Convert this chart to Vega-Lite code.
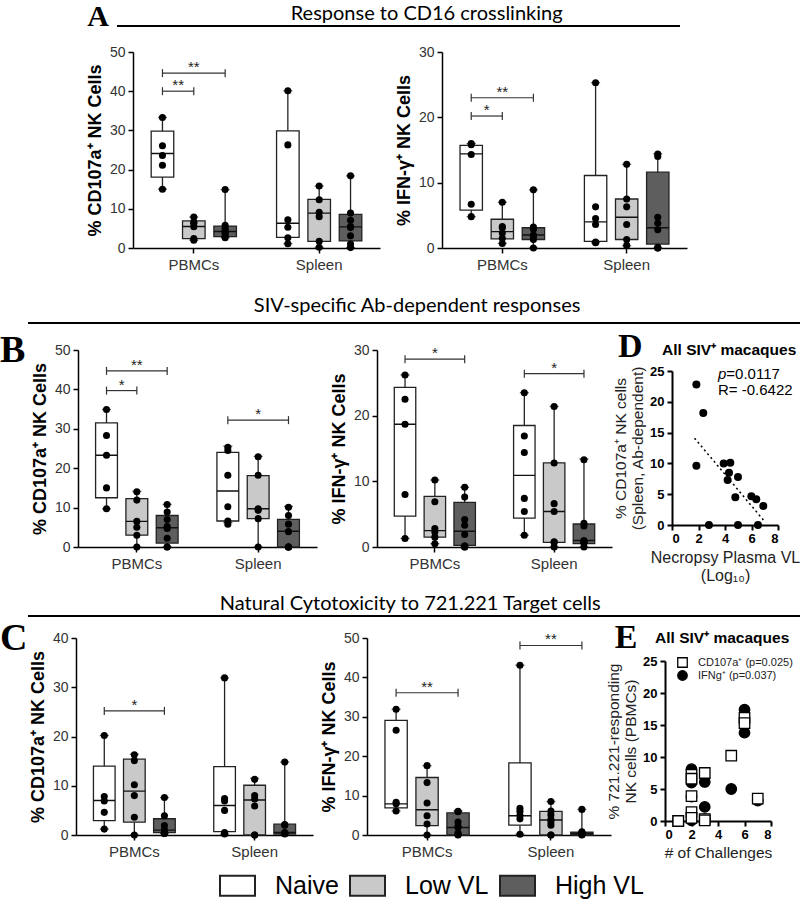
{
"$schema": "https://vega.github.io/schema/vega-lite/v6.json",
"background": "white",
"padding": 0,
"config": {
 "view": {"stroke": null},
 "font": "Liberation Sans",
 "axis": {"grid": false, "labelOverlap": false, "domainColor": "#000", "domainWidth": 1.5, "tickColor": "#000", "tickWidth": 1.5, "tickSize": 5, "labelFont": "Liberation Sans", "labelFontSize": 14, "labelColor": "#333", "titleFont": "Liberation Sans", "titleFontSize": 18, "titleFontWeight": "bold", "titleColor": "#000", "labelPadding": 3, "titlePadding": 5},
 "axisX": {"labelFontSize": 15, "labelPadding": 4, "labelAngle": 0},
 "text": {"font": "Liberation Sans"}
},
"datasets": {
 "boxes": [
  {"panel":"A1","slot":"PBMCs|Naive","group":"Naive","min":15.0,"q1":18.1,"median":24.1,"q3":29.8,"max":33.3},
  {"panel":"A1","slot":"PBMCs|Low VL","group":"Low VL","min":2.0,"q1":2.4,"median":5.5,"q3":6.9,"max":7.9},
  {"panel":"A1","slot":"PBMCs|High VL","group":"High VL","min":2.6,"q1":2.9,"median":4.2,"q3":5.6,"max":14.9},
  {"panel":"A1","slot":"Spleen|Naive","group":"Naive","min":1.1,"q1":2.7,"median":6.3,"q3":29.9,"max":40.1},
  {"panel":"A1","slot":"Spleen|Low VL","group":"Low VL","min":0.2,"q1":1.7,"median":8.9,"q3":12.4,"max":15.8},
  {"panel":"A1","slot":"Spleen|High VL","group":"High VL","min":0.1,"q1":1.8,"median":5.4,"q3":8.6,"max":18.4},
  {"panel":"A2","slot":"PBMCs|Naive","group":"Naive","min":4.8,"q1":5.8,"median":14.4,"q3":15.7,"max":16.0},
  {"panel":"A2","slot":"PBMCs|Low VL","group":"Low VL","min":0.7,"q1":1.4,"median":2.5,"q3":4.4,"max":7.0},
  {"panel":"A2","slot":"PBMCs|High VL","group":"High VL","min":0,"q1":1.3,"median":2.0,"q3":3.1,"max":8.9},
  {"panel":"A2","slot":"Spleen|Naive","group":"Naive","min":0.8,"q1":1.0,"median":4.0,"q3":11.1,"max":25.3},
  {"panel":"A2","slot":"Spleen|Low VL","group":"Low VL","min":0.35,"q1":1.3,"median":4.7,"q3":7.5,"max":12.8},
  {"panel":"A2","slot":"Spleen|High VL","group":"High VL","min":0,"q1":0.6,"median":3.1,"q3":11.6,"max":14.4},
  {"panel":"B1","slot":"PBMCs|Naive","group":"Naive","min":9.7,"q1":12.5,"median":23.3,"q3":31.5,"max":34.9},
  {"panel":"B1","slot":"PBMCs|Low VL","group":"Low VL","min":0,"q1":3.0,"median":6.5,"q3":12.3,"max":14.1},
  {"panel":"B1","slot":"PBMCs|High VL","group":"High VL","min":0,"q1":1.0,"median":4.9,"q3":8.0,"max":10.8},
  {"panel":"B1","slot":"Spleen|Naive","group":"Naive","min":6.2,"q1":6.6,"median":14.2,"q3":24.0,"max":25.6},
  {"panel":"B1","slot":"Spleen|Low VL","group":"Low VL","min":0,"q1":7.2,"median":9.7,"q3":18.1,"max":23.0},
  {"panel":"B1","slot":"Spleen|High VL","group":"High VL","min":0,"q1":0,"median":4.0,"q3":7.0,"max":10.3},
  {"panel":"B2","slot":"PBMCs|Naive","group":"Naive","min":1.3,"q1":4.7,"median":18.7,"q3":24.3,"max":26.2},
  {"panel":"B2","slot":"PBMCs|Low VL","group":"Low VL","min":0.5,"q1":1.5,"median":2.5,"q3":7.7,"max":10.2},
  {"panel":"B2","slot":"PBMCs|High VL","group":"High VL","min":0,"q1":0.25,"median":2.4,"q3":6.8,"max":9.1},
  {"panel":"B2","slot":"Spleen|Naive","group":"Naive","min":1.8,"q1":4.4,"median":10.9,"q3":18.5,"max":23.5},
  {"panel":"B2","slot":"Spleen|Low VL","group":"Low VL","min":0,"q1":0.7,"median":5.4,"q3":12.8,"max":21.4},
  {"panel":"B2","slot":"Spleen|High VL","group":"High VL","min":0,"q1":0.5,"median":1.0,"q3":3.5,"max":13.4},
  {"panel":"C1","slot":"PBMCs|Naive","group":"Naive","min":1.2,"q1":2.9,"median":7.0,"q3":14.0,"max":20.2},
  {"panel":"C1","slot":"PBMCs|Low VL","group":"Low VL","min":0,"q1":2.6,"median":8.9,"q3":15.4,"max":16.4},
  {"panel":"C1","slot":"PBMCs|High VL","group":"High VL","min":0.3,"q1":0.5,"median":1.0,"q3":3.3,"max":7.6},
  {"panel":"C1","slot":"Spleen|Naive","group":"Naive","min":0.2,"q1":0.7,"median":6.0,"q3":13.9,"max":31.9},
  {"panel":"C1","slot":"Spleen|Low VL","group":"Low VL","min":0,"q1":0,"median":7.1,"q3":10.1,"max":11.5},
  {"panel":"C1","slot":"Spleen|High VL","group":"High VL","min":0.1,"q1":0.2,"median":0.5,"q3":2.2,"max":14.8},
  {"panel":"C2","slot":"PBMCs|Naive","group":"Naive","min":6.1,"q1":6.9,"median":7.9,"q3":29.1,"max":31.9},
  {"panel":"C2","slot":"PBMCs|Low VL","group":"Low VL","min":0,"q1":2.4,"median":6.4,"q3":14.6,"max":17.6},
  {"panel":"C2","slot":"PBMCs|High VL","group":"High VL","min":0,"q1":0,"median":1.9,"q3":5.6,"max":6.1},
  {"panel":"C2","slot":"Spleen|Naive","group":"Naive","min":0.2,"q1":2.5,"median":4.9,"q3":18.3,"max":43.1},
  {"panel":"C2","slot":"Spleen|Low VL","group":"Low VL","min":0,"q1":0,"median":3.8,"q3":6.0,"max":8.5},
  {"panel":"C2","slot":"Spleen|High VL","group":"High VL","min":0,"q1":0,"median":0.3,"q3":0.7,"max":6.5}
 ],
 "points": [
  {"panel":"A1","slot":"PBMCs|Naive","pct":33.3},{"panel":"A1","slot":"PBMCs|Naive","pct":26.1},{"panel":"A1","slot":"PBMCs|Naive","pct":23.6},{"panel":"A1","slot":"PBMCs|Naive","pct":21.1},{"panel":"A1","slot":"PBMCs|Naive","pct":15.0},
  {"panel":"A1","slot":"PBMCs|Low VL","pct":7.9},{"panel":"A1","slot":"PBMCs|Low VL","pct":6.6},{"panel":"A1","slot":"PBMCs|Low VL","pct":6.3},{"panel":"A1","slot":"PBMCs|Low VL","pct":5.4},{"panel":"A1","slot":"PBMCs|Low VL","pct":2.4},{"panel":"A1","slot":"PBMCs|Low VL","pct":2.0},
  {"panel":"A1","slot":"PBMCs|High VL","pct":14.9},{"panel":"A1","slot":"PBMCs|High VL","pct":5.8},{"panel":"A1","slot":"PBMCs|High VL","pct":5.0},{"panel":"A1","slot":"PBMCs|High VL","pct":4.4},{"panel":"A1","slot":"PBMCs|High VL","pct":4.0},{"panel":"A1","slot":"PBMCs|High VL","pct":3.6},{"panel":"A1","slot":"PBMCs|High VL","pct":3.0},{"panel":"A1","slot":"PBMCs|High VL","pct":2.6},
  {"panel":"A1","slot":"Spleen|Naive","pct":40.1},{"panel":"A1","slot":"Spleen|Naive","pct":26.3},{"panel":"A1","slot":"Spleen|Naive","pct":7.2},{"panel":"A1","slot":"Spleen|Naive","pct":5.3},{"panel":"A1","slot":"Spleen|Naive","pct":2.6},{"panel":"A1","slot":"Spleen|Naive","pct":1.1},
  {"panel":"A1","slot":"Spleen|Low VL","pct":15.8},{"panel":"A1","slot":"Spleen|Low VL","pct":12.3},{"panel":"A1","slot":"Spleen|Low VL","pct":9.1},{"panel":"A1","slot":"Spleen|Low VL","pct":8.0},{"panel":"A1","slot":"Spleen|Low VL","pct":1.7},{"panel":"A1","slot":"Spleen|Low VL","pct":0.2},
  {"panel":"A1","slot":"Spleen|High VL","pct":18.4},{"panel":"A1","slot":"Spleen|High VL","pct":8.9},{"panel":"A1","slot":"Spleen|High VL","pct":7.1},{"panel":"A1","slot":"Spleen|High VL","pct":5.5},{"panel":"A1","slot":"Spleen|High VL","pct":5.2},{"panel":"A1","slot":"Spleen|High VL","pct":3.1},{"panel":"A1","slot":"Spleen|High VL","pct":1.0},{"panel":"A1","slot":"Spleen|High VL","pct":0.1},
  {"panel":"A2","slot":"PBMCs|Naive","pct":16.0},{"panel":"A2","slot":"PBMCs|Naive","pct":15.8},{"panel":"A2","slot":"PBMCs|Naive","pct":14.3},{"panel":"A2","slot":"PBMCs|Naive","pct":6.7},{"panel":"A2","slot":"PBMCs|Naive","pct":4.8},
  {"panel":"A2","slot":"PBMCs|Low VL","pct":7.0},{"panel":"A2","slot":"PBMCs|Low VL","pct":3.3},{"panel":"A2","slot":"PBMCs|Low VL","pct":3.1},{"panel":"A2","slot":"PBMCs|Low VL","pct":2.3},{"panel":"A2","slot":"PBMCs|Low VL","pct":1.5},{"panel":"A2","slot":"PBMCs|Low VL","pct":0.7},
  {"panel":"A2","slot":"PBMCs|High VL","pct":8.9},{"panel":"A2","slot":"PBMCs|High VL","pct":3.2},{"panel":"A2","slot":"PBMCs|High VL","pct":3.0},{"panel":"A2","slot":"PBMCs|High VL","pct":2.9},{"panel":"A2","slot":"PBMCs|High VL","pct":2.0},{"panel":"A2","slot":"PBMCs|High VL","pct":1.8},{"panel":"A2","slot":"PBMCs|High VL","pct":1.3},{"panel":"A2","slot":"PBMCs|High VL","pct":0},
  {"panel":"A2","slot":"Spleen|Naive","pct":25.3},{"panel":"A2","slot":"Spleen|Naive","pct":6.3},{"panel":"A2","slot":"Spleen|Naive","pct":4.5},{"panel":"A2","slot":"Spleen|Naive","pct":3.6},{"panel":"A2","slot":"Spleen|Naive","pct":0.9},{"panel":"A2","slot":"Spleen|Naive","pct":0.8},
  {"panel":"A2","slot":"Spleen|Low VL","pct":12.8},{"panel":"A2","slot":"Spleen|Low VL","pct":7.5},{"panel":"A2","slot":"Spleen|Low VL","pct":6.3},{"panel":"A2","slot":"Spleen|Low VL","pct":3.6},{"panel":"A2","slot":"Spleen|Low VL","pct":1.3},{"panel":"A2","slot":"Spleen|Low VL","pct":0.4},
  {"panel":"A2","slot":"Spleen|High VL","pct":14.4},{"panel":"A2","slot":"Spleen|High VL","pct":14.0},{"panel":"A2","slot":"Spleen|High VL","pct":4.7},{"panel":"A2","slot":"Spleen|High VL","pct":3.8},{"panel":"A2","slot":"Spleen|High VL","pct":2.8},{"panel":"A2","slot":"Spleen|High VL","pct":0.1},{"panel":"A2","slot":"Spleen|High VL","pct":0},{"panel":"A2","slot":"Spleen|High VL","pct":0},
  {"panel":"B1","slot":"PBMCs|Naive","pct":34.9},{"panel":"B1","slot":"PBMCs|Naive","pct":28.3},{"panel":"B1","slot":"PBMCs|Naive","pct":23.3},{"panel":"B1","slot":"PBMCs|Naive","pct":15.0},{"panel":"B1","slot":"PBMCs|Naive","pct":9.7},
  {"panel":"B1","slot":"PBMCs|Low VL","pct":14.0},{"panel":"B1","slot":"PBMCs|Low VL","pct":11.9},{"panel":"B1","slot":"PBMCs|Low VL","pct":6.5},{"panel":"B1","slot":"PBMCs|Low VL","pct":5.0},{"panel":"B1","slot":"PBMCs|Low VL","pct":3.0},{"panel":"B1","slot":"PBMCs|Low VL","pct":0},
  {"panel":"B1","slot":"PBMCs|High VL","pct":10.8},{"panel":"B1","slot":"PBMCs|High VL","pct":8.9},{"panel":"B1","slot":"PBMCs|High VL","pct":7.0},{"panel":"B1","slot":"PBMCs|High VL","pct":5.2},{"panel":"B1","slot":"PBMCs|High VL","pct":4.7},{"panel":"B1","slot":"PBMCs|High VL","pct":2.2},{"panel":"B1","slot":"PBMCs|High VL","pct":0},{"panel":"B1","slot":"PBMCs|High VL","pct":0},
  {"panel":"B1","slot":"Spleen|Naive","pct":25.3},{"panel":"B1","slot":"Spleen|Naive","pct":24.5},{"panel":"B1","slot":"Spleen|Naive","pct":18.2},{"panel":"B1","slot":"Spleen|Naive","pct":10.2},{"panel":"B1","slot":"Spleen|Naive","pct":6.6},{"panel":"B1","slot":"Spleen|Naive","pct":5.8},
  {"panel":"B1","slot":"Spleen|Low VL","pct":22.9},{"panel":"B1","slot":"Spleen|Low VL","pct":18.2},{"panel":"B1","slot":"Spleen|Low VL","pct":9.7},{"panel":"B1","slot":"Spleen|Low VL","pct":9.3},{"panel":"B1","slot":"Spleen|Low VL","pct":7.2},{"panel":"B1","slot":"Spleen|Low VL","pct":0},
  {"panel":"B1","slot":"Spleen|High VL","pct":10.1},{"panel":"B1","slot":"Spleen|High VL","pct":8.0},{"panel":"B1","slot":"Spleen|High VL","pct":5.8},{"panel":"B1","slot":"Spleen|High VL","pct":3.9},{"panel":"B1","slot":"Spleen|High VL","pct":0},{"panel":"B1","slot":"Spleen|High VL","pct":0},{"panel":"B1","slot":"Spleen|High VL","pct":0},{"panel":"B1","slot":"Spleen|High VL","pct":0},
  {"panel":"B2","slot":"PBMCs|Naive","pct":26.2},{"panel":"B2","slot":"PBMCs|Naive","pct":22.5},{"panel":"B2","slot":"PBMCs|Naive","pct":18.7},{"panel":"B2","slot":"PBMCs|Naive","pct":8.0},{"panel":"B2","slot":"PBMCs|Naive","pct":1.3},
  {"panel":"B2","slot":"PBMCs|Low VL","pct":10.2},{"panel":"B2","slot":"PBMCs|Low VL","pct":6.9},{"panel":"B2","slot":"PBMCs|Low VL","pct":2.8},{"panel":"B2","slot":"PBMCs|Low VL","pct":2.3},{"panel":"B2","slot":"PBMCs|Low VL","pct":1.5},{"panel":"B2","slot":"PBMCs|Low VL","pct":0.5},
  {"panel":"B2","slot":"PBMCs|High VL","pct":9.1},{"panel":"B2","slot":"PBMCs|High VL","pct":7.6},{"panel":"B2","slot":"PBMCs|High VL","pct":4.2},{"panel":"B2","slot":"PBMCs|High VL","pct":3.3},{"panel":"B2","slot":"PBMCs|High VL","pct":1.9},{"panel":"B2","slot":"PBMCs|High VL","pct":0.2},{"panel":"B2","slot":"PBMCs|High VL","pct":0},{"panel":"B2","slot":"PBMCs|High VL","pct":0},
  {"panel":"B2","slot":"Spleen|Naive","pct":23.5},{"panel":"B2","slot":"Spleen|Naive","pct":16.9},{"panel":"B2","slot":"Spleen|Naive","pct":14.4},{"panel":"B2","slot":"Spleen|Naive","pct":7.4},{"panel":"B2","slot":"Spleen|Naive","pct":5.4},{"panel":"B2","slot":"Spleen|Naive","pct":1.8},
  {"panel":"B2","slot":"Spleen|Low VL","pct":21.4},{"panel":"B2","slot":"Spleen|Low VL","pct":12.8},{"panel":"B2","slot":"Spleen|Low VL","pct":6.6},{"panel":"B2","slot":"Spleen|Low VL","pct":5.4},{"panel":"B2","slot":"Spleen|Low VL","pct":0.8},{"panel":"B2","slot":"Spleen|Low VL","pct":0.7},{"panel":"B2","slot":"Spleen|Low VL","pct":0},
  {"panel":"B2","slot":"Spleen|High VL","pct":13.3},{"panel":"B2","slot":"Spleen|High VL","pct":3.6},{"panel":"B2","slot":"Spleen|High VL","pct":3.2},{"panel":"B2","slot":"Spleen|High VL","pct":1.0},{"panel":"B2","slot":"Spleen|High VL","pct":0.8},{"panel":"B2","slot":"Spleen|High VL","pct":0.7},{"panel":"B2","slot":"Spleen|High VL","pct":0.6},{"panel":"B2","slot":"Spleen|High VL","pct":0},
  {"panel":"C1","slot":"PBMCs|Naive","pct":20.2},{"panel":"C1","slot":"PBMCs|Naive","pct":7.8},{"panel":"C1","slot":"PBMCs|Naive","pct":6.9},{"panel":"C1","slot":"PBMCs|Naive","pct":4.6},{"panel":"C1","slot":"PBMCs|Naive","pct":1.2},
  {"panel":"C1","slot":"PBMCs|Low VL","pct":16.3},{"panel":"C1","slot":"PBMCs|Low VL","pct":15.1},{"panel":"C1","slot":"PBMCs|Low VL","pct":10.2},{"panel":"C1","slot":"PBMCs|Low VL","pct":8.0},{"panel":"C1","slot":"PBMCs|Low VL","pct":3.6},{"panel":"C1","slot":"PBMCs|Low VL","pct":0},
  {"panel":"C1","slot":"PBMCs|High VL","pct":7.6},{"panel":"C1","slot":"PBMCs|High VL","pct":3.9},{"panel":"C1","slot":"PBMCs|High VL","pct":1.9},{"panel":"C1","slot":"PBMCs|High VL","pct":1.0},{"panel":"C1","slot":"PBMCs|High VL","pct":0.6},{"panel":"C1","slot":"PBMCs|High VL","pct":0.5},{"panel":"C1","slot":"PBMCs|High VL","pct":0.3},{"panel":"C1","slot":"PBMCs|High VL","pct":0.3},
  {"panel":"C1","slot":"Spleen|Naive","pct":31.9},{"panel":"C1","slot":"Spleen|Naive","pct":7.4},{"panel":"C1","slot":"Spleen|Naive","pct":6.9},{"panel":"C1","slot":"Spleen|Naive","pct":5.0},{"panel":"C1","slot":"Spleen|Naive","pct":0.5},{"panel":"C1","slot":"Spleen|Naive","pct":0.2},
  {"panel":"C1","slot":"Spleen|Low VL","pct":11.3},{"panel":"C1","slot":"Spleen|Low VL","pct":8.0},{"panel":"C1","slot":"Spleen|Low VL","pct":7.3},{"panel":"C1","slot":"Spleen|Low VL","pct":5.9},{"panel":"C1","slot":"Spleen|Low VL","pct":0},{"panel":"C1","slot":"Spleen|Low VL","pct":0},
  {"panel":"C1","slot":"Spleen|High VL","pct":14.8},{"panel":"C1","slot":"Spleen|High VL","pct":2.1},{"panel":"C1","slot":"Spleen|High VL","pct":2.0},{"panel":"C1","slot":"Spleen|High VL","pct":0.5},{"panel":"C1","slot":"Spleen|High VL","pct":0.4},{"panel":"C1","slot":"Spleen|High VL","pct":0.3},{"panel":"C1","slot":"Spleen|High VL","pct":0.3},{"panel":"C1","slot":"Spleen|High VL","pct":0.2},
  {"panel":"C2","slot":"PBMCs|Naive","pct":31.9},{"panel":"C2","slot":"PBMCs|Naive","pct":26.6},{"panel":"C2","slot":"PBMCs|Naive","pct":8.3},{"panel":"C2","slot":"PBMCs|Naive","pct":7.9},{"panel":"C2","slot":"PBMCs|Naive","pct":6.1},
  {"panel":"C2","slot":"PBMCs|Low VL","pct":17.6},{"panel":"C2","slot":"PBMCs|Low VL","pct":13.3},{"panel":"C2","slot":"PBMCs|Low VL","pct":8.1},{"panel":"C2","slot":"PBMCs|Low VL","pct":4.9},{"panel":"C2","slot":"PBMCs|Low VL","pct":2.8},{"panel":"C2","slot":"PBMCs|Low VL","pct":0},
  {"panel":"C2","slot":"PBMCs|High VL","pct":6.0},{"panel":"C2","slot":"PBMCs|High VL","pct":5.9},{"panel":"C2","slot":"PBMCs|High VL","pct":3.3},{"panel":"C2","slot":"PBMCs|High VL","pct":2.2},{"panel":"C2","slot":"PBMCs|High VL","pct":1.9},{"panel":"C2","slot":"PBMCs|High VL","pct":0.5},{"panel":"C2","slot":"PBMCs|High VL","pct":0.1},{"panel":"C2","slot":"PBMCs|High VL","pct":0},
  {"panel":"C2","slot":"Spleen|Naive","pct":43.1},{"panel":"C2","slot":"Spleen|Naive","pct":6.8},{"panel":"C2","slot":"Spleen|Naive","pct":6.0},{"panel":"C2","slot":"Spleen|Naive","pct":5.0},{"panel":"C2","slot":"Spleen|Naive","pct":4.1},{"panel":"C2","slot":"Spleen|Naive","pct":0.2},
  {"panel":"C2","slot":"Spleen|Low VL","pct":8.5},{"panel":"C2","slot":"Spleen|Low VL","pct":6.1},{"panel":"C2","slot":"Spleen|Low VL","pct":5.1},{"panel":"C2","slot":"Spleen|Low VL","pct":4.0},{"panel":"C2","slot":"Spleen|Low VL","pct":3.3},{"panel":"C2","slot":"Spleen|Low VL","pct":2.5},{"panel":"C2","slot":"Spleen|Low VL","pct":0},{"panel":"C2","slot":"Spleen|Low VL","pct":0},
  {"panel":"C2","slot":"Spleen|High VL","pct":6.5},{"panel":"C2","slot":"Spleen|High VL","pct":0.8},{"panel":"C2","slot":"Spleen|High VL","pct":0.6},{"panel":"C2","slot":"Spleen|High VL","pct":0.4},{"panel":"C2","slot":"Spleen|High VL","pct":0.3},{"panel":"C2","slot":"Spleen|High VL","pct":0.2},{"panel":"C2","slot":"Spleen|High VL","pct":0.1},{"panel":"C2","slot":"Spleen|High VL","pct":0}
 ],
 "sig": [
  {"panel":"A1","from":"PBMCs|Naive","to":"PBMCs|High VL","y":44.6,"label":"**"},
  {"panel":"A1","from":"PBMCs|Naive","to":"PBMCs|Low VL","y":40.0,"label":"**"},
  {"panel":"A2","from":"PBMCs|Naive","to":"PBMCs|High VL","y":23.0,"label":"**"},
  {"panel":"A2","from":"PBMCs|Naive","to":"PBMCs|Low VL","y":20.2,"label":"*"},
  {"panel":"B1","from":"PBMCs|Naive","to":"PBMCs|High VL","y":44.7,"label":"**"},
  {"panel":"B1","from":"PBMCs|Naive","to":"PBMCs|Low VL","y":39.7,"label":"*"},
  {"panel":"B1","from":"Spleen|Naive","to":"Spleen|High VL","y":32.2,"label":"*"},
  {"panel":"B2","from":"PBMCs|Naive","to":"PBMCs|High VL","y":28.6,"label":"*"},
  {"panel":"B2","from":"Spleen|Naive","to":"Spleen|High VL","y":26.4,"label":"*"},
  {"panel":"C1","from":"PBMCs|Naive","to":"PBMCs|High VL","y":25.2,"label":"*"},
  {"panel":"C2","from":"PBMCs|Naive","to":"PBMCs|High VL","y":36.1,"label":"**"},
  {"panel":"C2","from":"Spleen|Naive","to":"Spleen|High VL","y":48.1,"label":"**"}
 ],
 "dpts": [
  {"vl":1.84,"pct":22.8},{"vl":2.36,"pct":18.2},{"vl":1.84,"pct":9.6},{"vl":2.79,"pct":0},{"vl":3.9,"pct":10.0},{"vl":4.4,"pct":10.1},{"vl":4.3,"pct":8.5},{"vl":4.2,"pct":7.3},{"vl":4.98,"pct":7.8},{"vl":4.78,"pct":4.5},{"vl":4.98,"pct":0},{"vl":5.99,"pct":4.65},{"vl":6.36,"pct":4.2},{"vl":6.89,"pct":3.1},{"vl":6.49,"pct":0}
 ],
 "dfit": [{"vl":1.7,"pct":14.1},{"vl":6.9,"pct":0.8}],
 "epts": [
  {"series":"IFNg⁺","challenges":1,"pct":0},{"series":"IFNg⁺","challenges":1,"pct":0},{"series":"IFNg⁺","challenges":2,"pct":8.1},{"series":"IFNg⁺","challenges":2,"pct":6.0},{"series":"IFNg⁺","challenges":2,"pct":3.8},{"series":"IFNg⁺","challenges":2,"pct":1.2},{"series":"IFNg⁺","challenges":2,"pct":0.1},{"series":"IFNg⁺","challenges":3,"pct":6.1},{"series":"IFNg⁺","challenges":3,"pct":2.2},{"series":"IFNg⁺","challenges":3,"pct":0.3},{"series":"IFNg⁺","challenges":5,"pct":5.0},{"series":"IFNg⁺","challenges":6,"pct":17.4},{"series":"IFNg⁺","challenges":6,"pct":13.8},{"series":"IFNg⁺","challenges":7,"pct":3.2},
  {"series":"CD107a⁺","challenges":1,"pct":0},{"series":"CD107a⁺","challenges":1,"pct":0},{"series":"CD107a⁺","challenges":2,"pct":7.2},{"series":"CD107a⁺","challenges":2,"pct":6.6},{"series":"CD107a⁺","challenges":2,"pct":3.9},{"series":"CD107a⁺","challenges":2,"pct":1.4},{"series":"CD107a⁺","challenges":2,"pct":0.5},{"series":"CD107a⁺","challenges":3,"pct":7.5},{"series":"CD107a⁺","challenges":3,"pct":0.3},{"series":"CD107a⁺","challenges":3,"pct":0.1},{"series":"CD107a⁺","challenges":5,"pct":10.2},{"series":"CD107a⁺","challenges":6,"pct":16.1},{"series":"CD107a⁺","challenges":6,"pct":15.3},{"series":"CD107a⁺","challenges":7,"pct":3.5}
 ]
},
"spacing": 0,
"bounds": "full",
"vconcat": [
 {"width":1,"height":2,"data":{"values":[]},"mark":"point"},
 {"hconcat": [
   {"width":117,"height":1,"data":{"values":[{}]},"mark":{"type":"text","font":"Liberation Serif","fontSize":30,"fontWeight":"bold","align":"right","baseline":"alphabetic","color":"#000"},"encoding":{"x":{"datum":0.93,"type":"quantitative","scale":{"domain":[0,1]},"axis":null},"y":{"datum":0,"type":"quantitative","scale":{"domain":[0,1]},"axis":null},"text":{"value":"A"}}},
   {"width":563,"height":1,"data":{"values":[{}]},"layer":[
     {"mark":{"type":"rule","strokeWidth":2,"color":"#000"},"encoding":{"y":{"datum":0,"type":"quantitative","scale":{"domain":[0,1]},"axis":null}}},
     {"mark":{"type":"text","font":"Lato","fontSize":20,"align":"center","baseline":"alphabetic","dy":-6,"color":"#000"},"encoding":{"x":{"datum":0.55,"type":"quantitative","scale":{"domain":[0,1]},"axis":null},"y":{"datum":0,"type":"quantitative"},"text":{"value":"Response to CD16 crosslinking"}}}
   ]}
  ], "spacing": 0, "bounds": "flush"},
 {"width":1,"height":13,"data":{"values":[]},"mark":"point"},
 {"hconcat": [
   {"width":71,"height":196,"data":{"values":[]},"mark":"point"},
   {"width":247,"height":196,"layer":[
     {"data":{"name":"boxes"},"transform":[{"filter":"datum.panel=='A1'"}],"mark":{"type":"rule","stroke":"#222","strokeWidth":1.3},"encoding":{"x":{"field":"slot","type":"nominal","scale":{"domain":["PBMCs|Naive","PBMCs|Low VL","PBMCs|High VL","gap","Spleen|Naive","Spleen|Low VL","Spleen|High VL"],"paddingInner":0,"paddingOuter":0.44},"axis":{"values":["PBMCs|Low VL","Spleen|Low VL"],"labelExpr":"split(datum.value,'|')[0]","title":null}},"y":{"field":"min","type":"quantitative","scale":{"domain":[0,50],"nice":false},"axis":{"values":[0,10,20,30,40,50],"tickCount":20,"format":"d","labelOverlap":false,"title":"% CD107a⁺ NK Cells"}},"y2":{"field":"max"}}},
     {"data":{"name":"boxes"},"transform":[{"filter":"datum.panel=='A1'"},{"fold":["min","max"],"as":["stat","v"]}],"mark":{"type":"tick","orient":"horizontal","size":9,"thickness":1.3,"color":"#222"},"encoding":{"x":{"field":"slot","type":"nominal"},"y":{"field":"v","type":"quantitative"}}},
     {"data":{"name":"boxes"},"transform":[{"filter":"datum.panel=='A1'"}],"mark":{"type":"bar","stroke":"#222","strokeWidth":1.3,"width":{"band":0.72}},"encoding":{"x":{"field":"slot","type":"nominal"},"y":{"field":"q1","type":"quantitative"},"y2":{"field":"q3"},"fill":{"field":"group","type":"nominal","scale":{"domain":["Naive","Low VL","High VL"],"range":["#ffffff","#c9c9c9","#5e5e5e"]},"legend":{"orient":"none","legendX":219,"legendY":867,"direction":"horizontal","title":null,"symbolType":"M-1,-0.57H1V0.57H-1Z","symbolSize":1225,"symbolStrokeColor":"#000","symbolStrokeWidth":2,"labelFontSize":25,"labelFont":"Liberation Sans","labelColor":"#000","labelOffset":19,"columnPadding":7}}}},
     {"data":{"name":"boxes"},"transform":[{"filter":"datum.panel=='A1'"}],"mark":{"type":"bar","fillOpacity":0,"stroke":"#111","strokeWidth":1.4,"width":{"band":0.72}},"encoding":{"x":{"field":"slot","type":"nominal"},"y":{"field":"median","type":"quantitative"},"y2":{"field":"median"}}},
     {"data":{"name":"points"},"transform":[{"filter":"datum.panel=='A1'"}],"mark":{"type":"circle","size":50,"color":"#000","opacity":1},"encoding":{"x":{"field":"slot","type":"nominal"},"y":{"field":"pct","type":"quantitative"}}},
     {"data":{"name":"sig"},"transform":[{"filter":"datum.panel=='A1'"}],"mark":{"type":"rule","stroke":"#333","strokeWidth":1.2},"encoding":{"x":{"field":"from","type":"nominal"},"x2":{"field":"to"},"y":{"field":"y","type":"quantitative"}}},
     {"data":{"name":"sig"},"transform":[{"filter":"datum.panel=='A1'"},{"fold":["from","to"],"as":["end","at"]}],"mark":{"type":"point","shape":"M0,-1V1","size":64,"stroke":"#333","strokeWidth":1.2,"filled":false,"opacity":1},"encoding":{"x":{"field":"at","type":"nominal"},"y":{"field":"y","type":"quantitative"}}},
     {"data":{"name":"sig"},"transform":[{"filter":"datum.panel=='A1' && indexof(datum.to,'Low')>=0"}],"mark":{"type":"text","fontSize":15,"baseline":"alphabetic","dy":-1,"color":"#222"},"encoding":{"x":{"field":"from","type":"nominal","bandPosition":1},"y":{"field":"y","type":"quantitative"},"text":{"field":"label"}}},
     {"data":{"name":"sig"},"transform":[{"filter":"datum.panel=='A1' && indexof(datum.to,'High')>=0"}],"mark":{"type":"text","fontSize":15,"baseline":"alphabetic","dy":-1,"color":"#222"},"encoding":{"x":{"field":"from","type":"nominal","bandPosition":1.5},"y":{"field":"y","type":"quantitative"},"text":{"field":"label"}}}
   ]},
   {"width":245,"height":196,"layer":[
     {"data":{"name":"boxes"},"transform":[{"filter":"datum.panel=='A2'"}],"mark":{"type":"rule","stroke":"#222","strokeWidth":1.3},"encoding":{"x":{"field":"slot","type":"nominal","scale":{"domain":["PBMCs|Naive","PBMCs|Low VL","PBMCs|High VL","gap","Spleen|Naive","Spleen|Low VL","Spleen|High VL"],"paddingInner":0,"paddingOuter":0.44},"axis":{"values":["PBMCs|Low VL","Spleen|Low VL"],"labelExpr":"split(datum.value,'|')[0]","title":null}},"y":{"field":"min","type":"quantitative","scale":{"domain":[0,30],"nice":false},"axis":{"values":[0,10,20,30],"tickCount":20,"format":"d","labelOverlap":false,"title":"% IFN-γ⁺ NK Cells"}},"y2":{"field":"max"}}},
     {"data":{"name":"boxes"},"transform":[{"filter":"datum.panel=='A2'"},{"fold":["min","max"],"as":["stat","v"]}],"mark":{"type":"tick","orient":"horizontal","size":9,"thickness":1.3,"color":"#222"},"encoding":{"x":{"field":"slot","type":"nominal"},"y":{"field":"v","type":"quantitative"}}},
     {"data":{"name":"boxes"},"transform":[{"filter":"datum.panel=='A2'"}],"mark":{"type":"bar","stroke":"#222","strokeWidth":1.3,"width":{"band":0.72}},"encoding":{"x":{"field":"slot","type":"nominal"},"y":{"field":"q1","type":"quantitative"},"y2":{"field":"q3"},"fill":{"field":"group","type":"nominal","scale":{"domain":["Naive","Low VL","High VL"],"range":["#ffffff","#c9c9c9","#5e5e5e"]}}}},
     {"data":{"name":"boxes"},"transform":[{"filter":"datum.panel=='A2'"}],"mark":{"type":"bar","fillOpacity":0,"stroke":"#111","strokeWidth":1.4,"width":{"band":0.72}},"encoding":{"x":{"field":"slot","type":"nominal"},"y":{"field":"median","type":"quantitative"},"y2":{"field":"median"}}},
     {"data":{"name":"points"},"transform":[{"filter":"datum.panel=='A2'"}],"mark":{"type":"circle","size":50,"color":"#000","opacity":1},"encoding":{"x":{"field":"slot","type":"nominal"},"y":{"field":"pct","type":"quantitative"}}},
     {"data":{"name":"sig"},"transform":[{"filter":"datum.panel=='A2'"}],"mark":{"type":"rule","stroke":"#333","strokeWidth":1.2},"encoding":{"x":{"field":"from","type":"nominal"},"x2":{"field":"to"},"y":{"field":"y","type":"quantitative"}}},
     {"data":{"name":"sig"},"transform":[{"filter":"datum.panel=='A2'"},{"fold":["from","to"],"as":["end","at"]}],"mark":{"type":"point","shape":"M0,-1V1","size":64,"stroke":"#333","strokeWidth":1.2,"filled":false,"opacity":1},"encoding":{"x":{"field":"at","type":"nominal"},"y":{"field":"y","type":"quantitative"}}},
     {"data":{"name":"sig"},"transform":[{"filter":"datum.panel=='A2' && indexof(datum.to,'Low')>=0"}],"mark":{"type":"text","fontSize":15,"baseline":"alphabetic","dy":-1,"color":"#222"},"encoding":{"x":{"field":"from","type":"nominal","bandPosition":1},"y":{"field":"y","type":"quantitative"},"text":{"field":"label"}}},
     {"data":{"name":"sig"},"transform":[{"filter":"datum.panel=='A2' && indexof(datum.to,'High')>=0"}],"mark":{"type":"text","fontSize":15,"baseline":"alphabetic","dy":-1,"color":"#222"},"encoding":{"x":{"field":"from","type":"nominal","bandPosition":1.5},"y":{"field":"y","type":"quantitative"},"text":{"field":"label"}}}
   ]}
  ], "spacing": 62, "bounds": "flush"},
 {"width":1,"height":11,"data":{"values":[]},"mark":"point"},
 {"hconcat": [
   {"width":28,"height":40,"data":{"values":[]},"mark":"point"},
   {"width":772,"height":40,"data":{"values":[{}]},"layer":[
     {"mark":{"type":"rule","strokeWidth":2,"color":"#000"},"encoding":{"y":{"datum":0,"type":"quantitative","scale":{"domain":[0,1]},"axis":null}}},
     {"mark":{"type":"text","font":"Lato","fontSize":20,"align":"center","baseline":"alphabetic","dy":-11,"color":"#000"},"encoding":{"x":{"datum":0.504,"type":"quantitative","scale":{"domain":[0,1]},"axis":null},"y":{"datum":0,"type":"quantitative"},"text":{"value":"SIV-specific Ab-dependent responses"}}}
   ]}
  ], "spacing": 0, "bounds": "flush"},
 {"width":1,"height":5,"data":{"values":[]},"mark":"point"},
 {"hconcat": [
   {"width":18,"height":197,"data":{"values":[{}]},"mark":{"type":"text","font":"Liberation Serif","fontSize":38,"fontWeight":"bold","align":"left","baseline":"alphabetic","dy":12,"color":"#000"},"encoding":{"x":{"datum":0,"type":"quantitative","scale":{"domain":[0,1]},"axis":null},"y":{"datum":1,"type":"quantitative","scale":{"domain":[0,1]},"axis":null},"text":{"value":"B"}}},
   {"width":239,"height":197,"layer":[
     {"data":{"name":"boxes"},"transform":[{"filter":"datum.panel=='B1'"}],"mark":{"type":"rule","stroke":"#222","strokeWidth":1.3},"encoding":{"x":{"field":"slot","type":"nominal","scale":{"domain":["PBMCs|Naive","PBMCs|Low VL","PBMCs|High VL","gap","Spleen|Naive","Spleen|Low VL","Spleen|High VL"],"paddingInner":0,"paddingOuter":0.44},"axis":{"values":["PBMCs|Low VL","Spleen|Low VL"],"labelExpr":"split(datum.value,'|')[0]","title":null}},"y":{"field":"min","type":"quantitative","scale":{"domain":[0,50],"nice":false},"axis":{"values":[0,10,20,30,40,50],"tickCount":20,"format":"d","labelOverlap":false,"title":"% CD107a⁺ NK Cells"}},"y2":{"field":"max"}}},
     {"data":{"name":"boxes"},"transform":[{"filter":"datum.panel=='B1'"},{"fold":["min","max"],"as":["stat","v"]}],"mark":{"type":"tick","orient":"horizontal","size":9,"thickness":1.3,"color":"#222"},"encoding":{"x":{"field":"slot","type":"nominal"},"y":{"field":"v","type":"quantitative"}}},
     {"data":{"name":"boxes"},"transform":[{"filter":"datum.panel=='B1'"}],"mark":{"type":"bar","stroke":"#222","strokeWidth":1.3,"width":{"band":0.72}},"encoding":{"x":{"field":"slot","type":"nominal"},"y":{"field":"q1","type":"quantitative"},"y2":{"field":"q3"},"fill":{"field":"group","type":"nominal","scale":{"domain":["Naive","Low VL","High VL"],"range":["#ffffff","#c9c9c9","#5e5e5e"]}}}},
     {"data":{"name":"boxes"},"transform":[{"filter":"datum.panel=='B1'"}],"mark":{"type":"bar","fillOpacity":0,"stroke":"#111","strokeWidth":1.4,"width":{"band":0.72}},"encoding":{"x":{"field":"slot","type":"nominal"},"y":{"field":"median","type":"quantitative"},"y2":{"field":"median"}}},
     {"data":{"name":"points"},"transform":[{"filter":"datum.panel=='B1'"}],"mark":{"type":"circle","size":50,"color":"#000","opacity":1},"encoding":{"x":{"field":"slot","type":"nominal"},"y":{"field":"pct","type":"quantitative"}}},
     {"data":{"name":"sig"},"transform":[{"filter":"datum.panel=='B1'"}],"mark":{"type":"rule","stroke":"#333","strokeWidth":1.2},"encoding":{"x":{"field":"from","type":"nominal"},"x2":{"field":"to"},"y":{"field":"y","type":"quantitative"}}},
     {"data":{"name":"sig"},"transform":[{"filter":"datum.panel=='B1'"},{"fold":["from","to"],"as":["end","at"]}],"mark":{"type":"point","shape":"M0,-1V1","size":64,"stroke":"#333","strokeWidth":1.2,"filled":false,"opacity":1},"encoding":{"x":{"field":"at","type":"nominal"},"y":{"field":"y","type":"quantitative"}}},
     {"data":{"name":"sig"},"transform":[{"filter":"datum.panel=='B1' && indexof(datum.to,'Low')>=0"}],"mark":{"type":"text","fontSize":15,"baseline":"alphabetic","dy":-1,"color":"#222"},"encoding":{"x":{"field":"from","type":"nominal","bandPosition":1},"y":{"field":"y","type":"quantitative"},"text":{"field":"label"}}},
     {"data":{"name":"sig"},"transform":[{"filter":"datum.panel=='B1' && indexof(datum.to,'High')>=0"}],"mark":{"type":"text","fontSize":15,"baseline":"alphabetic","dy":-1,"color":"#222"},"encoding":{"x":{"field":"from","type":"nominal","bandPosition":1.5},"y":{"field":"y","type":"quantitative"},"text":{"field":"label"}}}
   ]},
   {"width":235,"height":197,"layer":[
     {"data":{"name":"boxes"},"transform":[{"filter":"datum.panel=='B2'"}],"mark":{"type":"rule","stroke":"#222","strokeWidth":1.3},"encoding":{"x":{"field":"slot","type":"nominal","scale":{"domain":["PBMCs|Naive","PBMCs|Low VL","PBMCs|High VL","gap","Spleen|Naive","Spleen|Low VL","Spleen|High VL"],"paddingInner":0,"paddingOuter":0.44},"axis":{"values":["PBMCs|Low VL","Spleen|Low VL"],"labelExpr":"split(datum.value,'|')[0]","title":null}},"y":{"field":"min","type":"quantitative","scale":{"domain":[0,30],"nice":false},"axis":{"values":[0,10,20,30],"tickCount":20,"format":"d","labelOverlap":false,"title":"% IFN-γ⁺ NK Cells"}},"y2":{"field":"max"}}},
     {"data":{"name":"boxes"},"transform":[{"filter":"datum.panel=='B2'"},{"fold":["min","max"],"as":["stat","v"]}],"mark":{"type":"tick","orient":"horizontal","size":9,"thickness":1.3,"color":"#222"},"encoding":{"x":{"field":"slot","type":"nominal"},"y":{"field":"v","type":"quantitative"}}},
     {"data":{"name":"boxes"},"transform":[{"filter":"datum.panel=='B2'"}],"mark":{"type":"bar","stroke":"#222","strokeWidth":1.3,"width":{"band":0.72}},"encoding":{"x":{"field":"slot","type":"nominal"},"y":{"field":"q1","type":"quantitative"},"y2":{"field":"q3"},"fill":{"field":"group","type":"nominal","scale":{"domain":["Naive","Low VL","High VL"],"range":["#ffffff","#c9c9c9","#5e5e5e"]}}}},
     {"data":{"name":"boxes"},"transform":[{"filter":"datum.panel=='B2'"}],"mark":{"type":"bar","fillOpacity":0,"stroke":"#111","strokeWidth":1.4,"width":{"band":0.72}},"encoding":{"x":{"field":"slot","type":"nominal"},"y":{"field":"median","type":"quantitative"},"y2":{"field":"median"}}},
     {"data":{"name":"points"},"transform":[{"filter":"datum.panel=='B2'"}],"mark":{"type":"circle","size":50,"color":"#000","opacity":1},"encoding":{"x":{"field":"slot","type":"nominal"},"y":{"field":"pct","type":"quantitative"}}},
     {"data":{"name":"sig"},"transform":[{"filter":"datum.panel=='B2'"}],"mark":{"type":"rule","stroke":"#333","strokeWidth":1.2},"encoding":{"x":{"field":"from","type":"nominal"},"x2":{"field":"to"},"y":{"field":"y","type":"quantitative"}}},
     {"data":{"name":"sig"},"transform":[{"filter":"datum.panel=='B2'"},{"fold":["from","to"],"as":["end","at"]}],"mark":{"type":"point","shape":"M0,-1V1","size":64,"stroke":"#333","strokeWidth":1.2,"filled":false,"opacity":1},"encoding":{"x":{"field":"at","type":"nominal"},"y":{"field":"y","type":"quantitative"}}},
     {"data":{"name":"sig"},"transform":[{"filter":"datum.panel=='B2' && indexof(datum.to,'High')>=0"}],"mark":{"type":"text","fontSize":15,"baseline":"alphabetic","dy":-1,"color":"#222"},"encoding":{"x":{"field":"from","type":"nominal","bandPosition":1.5},"y":{"field":"y","type":"quantitative"},"text":{"field":"label"}}}
   ]},
   {"vconcat": [
     {"width":106,"height":1,"data":{"values":[]},"mark":"point"},
     {"width":106,"height":154,
      "layer":[
       {"data":{"name":"dpts"},"mark":{"type":"circle","size":64,"color":"#000","opacity":1},"encoding":{"x":{"field":"vl","type":"quantitative","scale":{"domain":[0,8],"nice":false},"axis":{"values":[0,2,4,6,8],"tickCount":20,"format":"d","labelOverlap":false,"title":["Necropsy Plasma VL","(Log₁₀)"],"titleFontWeight":"normal","titleFontSize":16,"titleColor":"#222","labelFontWeight":"bold","labelFontSize":13,"labelColor":"#000","domainWidth":2,"tickWidth":2,"labelPadding":2,"titlePadding":4}},"y":{"field":"pct","type":"quantitative","scale":{"domain":[0,25],"nice":false},"axis":{"values":[0,5,10,15,20,25],"tickCount":20,"format":"d","labelOverlap":false,"title":["% CD107a⁺ NK cells","(Spleen, Ab-dependent)"],"titleFontWeight":"normal","titleFontSize":15.5,"titleColor":"#222","labelFontWeight":"bold","labelFontSize":13,"labelColor":"#000","domainWidth":2,"tickWidth":2,"titlePadding":4}}}},
       {"data":{"name":"dfit"},"mark":{"type":"line","strokeDash":[2,3],"strokeWidth":1.5,"color":"#000"},"encoding":{"x":{"field":"vl","type":"quantitative"},"y":{"field":"pct","type":"quantitative"}}},
       {"data":{"values":[{}]},"mark":{"type":"text","fontSize":15,"fontStyle":"italic","align":"left","baseline":"alphabetic","color":"#000"},"encoding":{"x":{"datum":3.47,"type":"quantitative"},"y":{"datum":23.75,"type":"quantitative"},"text":{"value":"p"}}},
       {"data":{"values":[{}]},"mark":{"type":"text","fontSize":15,"align":"left","baseline":"alphabetic","color":"#000"},"encoding":{"x":{"datum":4.1,"type":"quantitative"},"y":{"datum":23.75,"type":"quantitative"},"text":{"value":"=0.0117"}}},
       {"data":{"values":[{}]},"mark":{"type":"text","fontSize":15,"align":"left","baseline":"alphabetic","color":"#000"},"encoding":{"x":{"datum":3.47,"type":"quantitative"},"y":{"datum":21.1,"type":"quantitative"},"text":{"value":"R= -0.6422"}}},
       {"data":{"values":[{}]},"mark":{"type":"text","fontSize":15.5,"fontWeight":"bold","align":"left","baseline":"alphabetic","color":"#000"},"encoding":{"x":{"datum":-0.75,"type":"quantitative"},"y":{"datum":27.6,"type":"quantitative"},"text":{"value":"All SIV⁺ macaques"}}},
       {"data":{"values":[{}]},"mark":{"type":"text","font":"Liberation Serif","fontSize":34,"fontWeight":"bold","align":"left","baseline":"alphabetic","color":"#000"},"encoding":{"x":{"datum":-4.08,"type":"quantitative"},"y":{"datum":27.3,"type":"quantitative"},"text":{"value":"D"}}}
      ]}
    ], "spacing": 20, "bounds": "flush"}
  ], "spacing": 60, "bounds": "flush"},
 {"width":1,"height":8,"data":{"values":[]},"mark":"point"},
 {"hconcat": [
   {"width":28,"height":25,"data":{"values":[]},"mark":"point"},
   {"width":772,"height":25,"data":{"values":[{}]},"layer":[
     {"mark":{"type":"rule","strokeWidth":2,"color":"#000"},"encoding":{"y":{"datum":0,"type":"quantitative","scale":{"domain":[0,1]},"axis":null}}},
     {"mark":{"type":"text","font":"Lato","fontSize":20,"align":"center","baseline":"alphabetic","dy":-6,"color":"#000"},"encoding":{"x":{"datum":0.495,"type":"quantitative","scale":{"domain":[0,1]},"axis":null},"y":{"datum":0,"type":"quantitative"},"text":{"value":"Natural Cytotoxicity to 721.221 Target cells"}}}
   ]}
  ], "spacing": 0, "bounds": "flush"},
 {"width":1,"height":3,"data":{"values":[]},"mark":"point"},
 {"hconcat": [
   {"width":22,"height":197,"data":{"values":[{}]},"mark":{"type":"text","font":"Liberation Serif","fontSize":38,"fontWeight":"bold","align":"left","baseline":"alphabetic","dy":12,"color":"#000"},"encoding":{"x":{"datum":0,"type":"quantitative","scale":{"domain":[0,1]},"axis":null},"y":{"datum":1,"type":"quantitative","scale":{"domain":[0,1]},"axis":null},"text":{"value":"C"}}},
   {"width":237,"height":197,"layer":[
     {"data":{"name":"boxes"},"transform":[{"filter":"datum.panel=='C1'"}],"mark":{"type":"rule","stroke":"#222","strokeWidth":1.3},"encoding":{"x":{"field":"slot","type":"nominal","scale":{"domain":["PBMCs|Naive","PBMCs|Low VL","PBMCs|High VL","gap","Spleen|Naive","Spleen|Low VL","Spleen|High VL"],"paddingInner":0,"paddingOuter":0.44},"axis":{"values":["PBMCs|Low VL","Spleen|Low VL"],"labelExpr":"split(datum.value,'|')[0]","title":null}},"y":{"field":"min","type":"quantitative","scale":{"domain":[0,40],"nice":false},"axis":{"values":[0,10,20,30,40],"tickCount":20,"format":"d","labelOverlap":false,"title":"% CD107a⁺ NK Cells"}},"y2":{"field":"max"}}},
     {"data":{"name":"boxes"},"transform":[{"filter":"datum.panel=='C1'"},{"fold":["min","max"],"as":["stat","v"]}],"mark":{"type":"tick","orient":"horizontal","size":9,"thickness":1.3,"color":"#222"},"encoding":{"x":{"field":"slot","type":"nominal"},"y":{"field":"v","type":"quantitative"}}},
     {"data":{"name":"boxes"},"transform":[{"filter":"datum.panel=='C1'"}],"mark":{"type":"bar","stroke":"#222","strokeWidth":1.3,"width":{"band":0.72}},"encoding":{"x":{"field":"slot","type":"nominal"},"y":{"field":"q1","type":"quantitative"},"y2":{"field":"q3"},"fill":{"field":"group","type":"nominal","scale":{"domain":["Naive","Low VL","High VL"],"range":["#ffffff","#c9c9c9","#5e5e5e"]}}}},
     {"data":{"name":"boxes"},"transform":[{"filter":"datum.panel=='C1'"}],"mark":{"type":"bar","fillOpacity":0,"stroke":"#111","strokeWidth":1.4,"width":{"band":0.72}},"encoding":{"x":{"field":"slot","type":"nominal"},"y":{"field":"median","type":"quantitative"},"y2":{"field":"median"}}},
     {"data":{"name":"points"},"transform":[{"filter":"datum.panel=='C1'"}],"mark":{"type":"circle","size":50,"color":"#000","opacity":1},"encoding":{"x":{"field":"slot","type":"nominal"},"y":{"field":"pct","type":"quantitative"}}},
     {"data":{"name":"sig"},"transform":[{"filter":"datum.panel=='C1'"}],"mark":{"type":"rule","stroke":"#333","strokeWidth":1.2},"encoding":{"x":{"field":"from","type":"nominal"},"x2":{"field":"to"},"y":{"field":"y","type":"quantitative"}}},
     {"data":{"name":"sig"},"transform":[{"filter":"datum.panel=='C1'"},{"fold":["from","to"],"as":["end","at"]}],"mark":{"type":"point","shape":"M0,-1V1","size":64,"stroke":"#333","strokeWidth":1.2,"filled":false,"opacity":1},"encoding":{"x":{"field":"at","type":"nominal"},"y":{"field":"y","type":"quantitative"}}},
     {"data":{"name":"sig"},"transform":[{"filter":"datum.panel=='C1' && indexof(datum.to,'High')>=0"}],"mark":{"type":"text","fontSize":15,"baseline":"alphabetic","dy":-1,"color":"#222"},"encoding":{"x":{"field":"from","type":"nominal","bandPosition":1.5},"y":{"field":"y","type":"quantitative"},"text":{"field":"label"}}}
   ]},
   {"width":244,"height":197,"layer":[
     {"data":{"name":"boxes"},"transform":[{"filter":"datum.panel=='C2'"}],"mark":{"type":"rule","stroke":"#222","strokeWidth":1.3},"encoding":{"x":{"field":"slot","type":"nominal","scale":{"domain":["PBMCs|Naive","PBMCs|Low VL","PBMCs|High VL","gap","Spleen|Naive","Spleen|Low VL","Spleen|High VL"],"paddingInner":0,"paddingOuter":0.44},"axis":{"values":["PBMCs|Low VL","Spleen|Low VL"],"labelExpr":"split(datum.value,'|')[0]","title":null}},"y":{"field":"min","type":"quantitative","scale":{"domain":[0,50],"nice":false},"axis":{"values":[0,10,20,30,40,50],"tickCount":20,"format":"d","labelOverlap":false,"title":"% IFN-γ⁺ NK Cells"}},"y2":{"field":"max"}}},
     {"data":{"name":"boxes"},"transform":[{"filter":"datum.panel=='C2'"},{"fold":["min","max"],"as":["stat","v"]}],"mark":{"type":"tick","orient":"horizontal","size":9,"thickness":1.3,"color":"#222"},"encoding":{"x":{"field":"slot","type":"nominal"},"y":{"field":"v","type":"quantitative"}}},
     {"data":{"name":"boxes"},"transform":[{"filter":"datum.panel=='C2'"}],"mark":{"type":"bar","stroke":"#222","strokeWidth":1.3,"width":{"band":0.72}},"encoding":{"x":{"field":"slot","type":"nominal"},"y":{"field":"q1","type":"quantitative"},"y2":{"field":"q3"},"fill":{"field":"group","type":"nominal","scale":{"domain":["Naive","Low VL","High VL"],"range":["#ffffff","#c9c9c9","#5e5e5e"]}}}},
     {"data":{"name":"boxes"},"transform":[{"filter":"datum.panel=='C2'"}],"mark":{"type":"bar","fillOpacity":0,"stroke":"#111","strokeWidth":1.4,"width":{"band":0.72}},"encoding":{"x":{"field":"slot","type":"nominal"},"y":{"field":"median","type":"quantitative"},"y2":{"field":"median"}}},
     {"data":{"name":"points"},"transform":[{"filter":"datum.panel=='C2'"}],"mark":{"type":"circle","size":50,"color":"#000","opacity":1},"encoding":{"x":{"field":"slot","type":"nominal"},"y":{"field":"pct","type":"quantitative"}}},
     {"data":{"name":"sig"},"transform":[{"filter":"datum.panel=='C2'"}],"mark":{"type":"rule","stroke":"#333","strokeWidth":1.2},"encoding":{"x":{"field":"from","type":"nominal"},"x2":{"field":"to"},"y":{"field":"y","type":"quantitative"}}},
     {"data":{"name":"sig"},"transform":[{"filter":"datum.panel=='C2'"},{"fold":["from","to"],"as":["end","at"]}],"mark":{"type":"point","shape":"M0,-1V1","size":64,"stroke":"#333","strokeWidth":1.2,"filled":false,"opacity":1},"encoding":{"x":{"field":"at","type":"nominal"},"y":{"field":"y","type":"quantitative"}}},
     {"data":{"name":"sig"},"transform":[{"filter":"datum.panel=='C2' && indexof(datum.to,'High')>=0"}],"mark":{"type":"text","fontSize":15,"baseline":"alphabetic","dy":-1,"color":"#222"},"encoding":{"x":{"field":"from","type":"nominal","bandPosition":1.5},"y":{"field":"y","type":"quantitative"},"text":{"field":"label"}}}
   ]},
   {"vconcat": [
     {"width":106,"height":1,"data":{"values":[]},"mark":"point"},
     {"width":106,"height":160,
      "layer":[
       {"data":{"name":"epts"},"mark":{"type":"point","filled":true,"size":110,"stroke":"#000","strokeWidth":1.3,"opacity":1},"encoding":{
         "x":{"field":"challenges","type":"quantitative","scale":{"domain":[0,8],"nice":false},"axis":{"values":[0,2,4,6,8],"tickCount":20,"format":"d","labelOverlap":false,"title":"# of Challenges","titleFontWeight":"normal","titleFontSize":15.5,"titleColor":"#222","labelFontWeight":"bold","labelFontSize":13,"labelColor":"#000","domainWidth":2,"tickWidth":2,"labelPadding":2,"titlePadding":4}},
         "y":{"field":"pct","type":"quantitative","scale":{"domain":[0,25],"nice":false},"axis":{"values":[0,5,10,15,20,25],"tickCount":20,"format":"d","labelOverlap":false,"title":["% 721.221-responding","NK cells (PBMCs)"],"titleFontWeight":"normal","titleFontSize":15.5,"titleColor":"#222","labelFontWeight":"bold","labelFontSize":13,"labelColor":"#000","domainWidth":2,"tickWidth":2,"titlePadding":4}},
         "color":{"field":"series","type":"nominal","scale":{"domain":["CD107a⁺","IFNg⁺"],"range":["#ffffff","#000000"]},"legend":{"orient":"none","legendX":677,"legendY":657,"title":null,"labelFontSize":11,"labelColor":"#222","symbolStrokeColor":"#000","symbolStrokeWidth":1.3,"symbolSize":90,"rowPadding":-2,"labelOffset":10,"labelExpr":"datum.label == 'CD107a⁺' ? 'CD107a⁺ (p=0.025)' : 'IFNg⁺ (p=0.037)'"}},
         "shape":{"field":"series","type":"nominal","scale":{"domain":["CD107a⁺","IFNg⁺"],"range":["square","circle"]},"legend":{"orient":"none","legendX":677,"legendY":657,"title":null,"labelFontSize":11,"labelColor":"#222","symbolStrokeColor":"#000","symbolStrokeWidth":1.3,"symbolSize":90,"rowPadding":-2,"labelOffset":10,"labelExpr":"datum.label == 'CD107a⁺' ? 'CD107a⁺ (p=0.025)' : 'IFNg⁺ (p=0.037)'"}}}},
       {"data":{"values":[{}]},"mark":{"type":"text","fontSize":15.5,"fontWeight":"bold","align":"left","baseline":"alphabetic","color":"#000"},"encoding":{"x":{"datum":-0.75,"type":"quantitative"},"y":{"datum":27.8,"type":"quantitative"},"text":{"value":"All SIV⁺ macaques"}}},
       {"data":{"values":[{}]},"mark":{"type":"text","font":"Liberation Serif","fontSize":34,"fontWeight":"bold","align":"left","baseline":"alphabetic","color":"#000"},"encoding":{"x":{"datum":-3.8,"type":"quantitative"},"y":{"datum":27.0,"type":"quantitative"},"text":{"value":"E"}}}
      ]}
    ], "spacing": 22, "bounds": "flush"}
  ], "spacing": 54, "bounds": "flush"}
]
}
